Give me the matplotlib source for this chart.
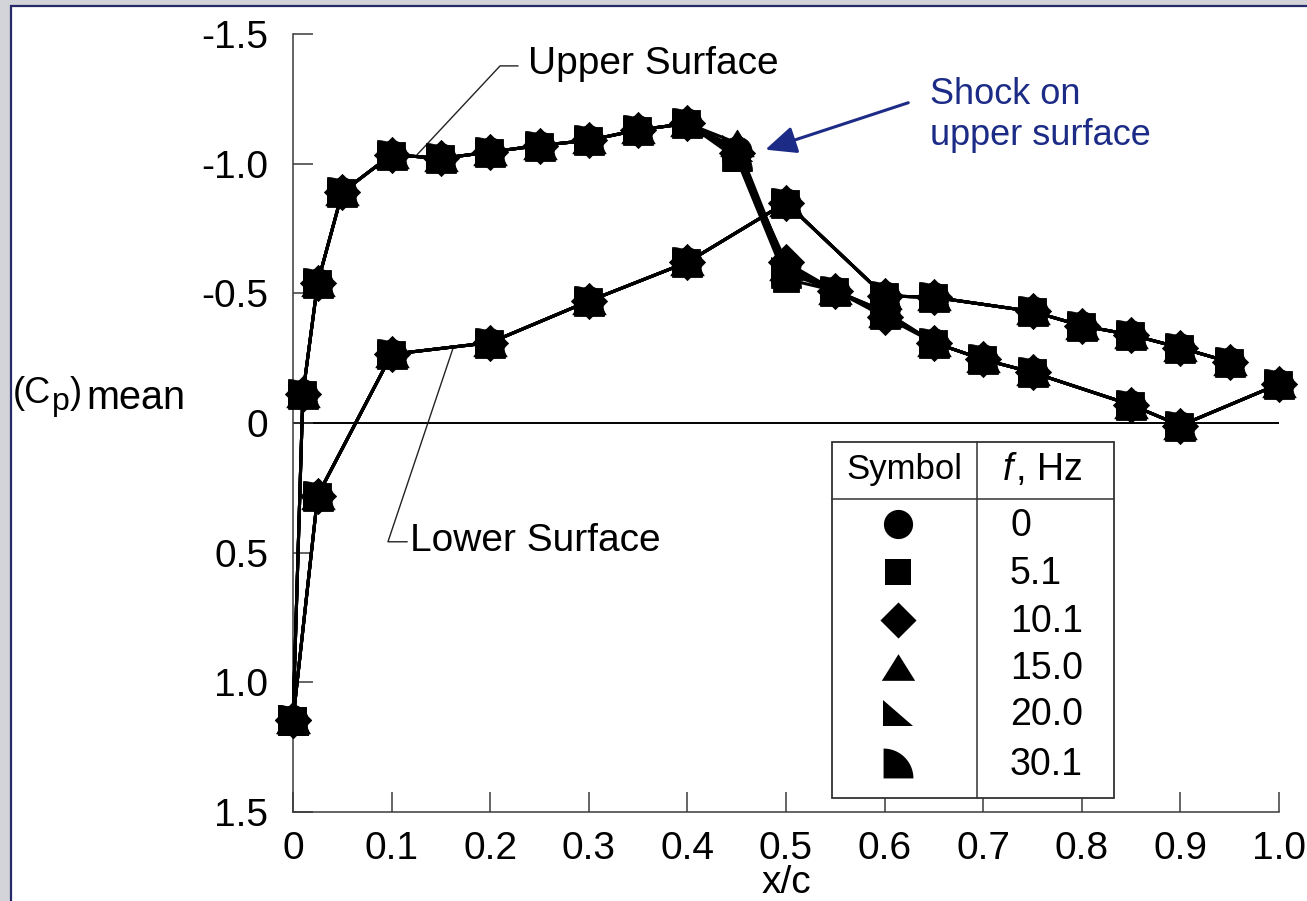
import matplotlib
matplotlib.use('Agg')
import matplotlib.pyplot as plt
from matplotlib.path import Path
from matplotlib.patches import Rectangle
import numpy as np

plt.rcParams['font.family'] = ['Liberation Sans', 'DejaVu Sans']

# ---------------- data ----------------
freqs = ['0', '5.1', '10.1', '15.0', '20.0', '30.1']

x_upper = [0.0, 0.01, 0.025, 0.05, 0.10, 0.15, 0.20, 0.25, 0.30, 0.35, 0.40,
           0.45, 0.50, 0.55, 0.60, 0.65, 0.70, 0.75, 0.85, 0.90, 1.00]
cp_upper_f0 = [1.145, -0.11, -0.54, -0.89, -1.035, -1.02, -1.045, -1.07, -1.09, -1.13, -1.155,
               -1.05, -0.61, -0.51, -0.42, -0.31, -0.245, -0.195, -0.07, 0.01, -0.15]
cp_upper_f5 = [1.145, -0.11, -0.54, -0.89, -1.035, -1.02, -1.045, -1.07, -1.09, -1.13, -1.155,
               -1.02, -0.555, -0.51, -0.43, -0.31, -0.245, -0.195, -0.07, 0.01, -0.15]
cp_upper_f10 = [1.145, -0.11, -0.54, -0.89, -1.035, -1.02, -1.045, -1.07, -1.09, -1.13, -1.155,
                -1.04, -0.62, -0.51, -0.41, -0.31, -0.245, -0.195, -0.07, 0.01, -0.15]
cp_upper_f15 = [1.145, -0.11, -0.54, -0.89, -1.035, -1.02, -1.045, -1.07, -1.09, -1.13, -1.155,
                -1.08, -0.60, -0.51, -0.42, -0.31, -0.245, -0.195, -0.07, 0.01, -0.15]
cp_upper_f20 = [1.145, -0.11, -0.54, -0.89, -1.035, -1.02, -1.045, -1.07, -1.09, -1.13, -1.155,
                -1.06, -0.59, -0.51, -0.43, -0.31, -0.245, -0.195, -0.07, 0.01, -0.15]
cp_upper_f30 = [1.145, -0.11, -0.54, -0.89, -1.035, -1.02, -1.045, -1.07, -1.09, -1.13, -1.155,
                -1.03, -0.58, -0.51, -0.42, -0.31, -0.245, -0.195, -0.07, 0.01, -0.15]

x_lower = [0.0, 0.025, 0.10, 0.20, 0.30, 0.40, 0.50, 0.60, 0.65, 0.75, 0.80, 0.85, 0.90, 0.95]
cp_lower_f0 = [1.145, 0.28, -0.265, -0.31, -0.47, -0.62, -0.85, -0.49, -0.485, -0.43, -0.375, -0.34, -0.29, -0.235]
cp_lower_f5 = [1.145, 0.28, -0.265, -0.31, -0.47, -0.62, -0.85, -0.49, -0.485, -0.43, -0.375, -0.34, -0.29, -0.235]
cp_lower_f10 = [1.145, 0.28, -0.265, -0.31, -0.47, -0.62, -0.85, -0.49, -0.485, -0.43, -0.375, -0.34, -0.29, -0.235]
cp_lower_f15 = [1.145, 0.28, -0.265, -0.31, -0.47, -0.62, -0.85, -0.49, -0.485, -0.43, -0.375, -0.34, -0.29, -0.235]
cp_lower_f20 = [1.145, 0.28, -0.265, -0.31, -0.47, -0.62, -0.85, -0.49, -0.485, -0.43, -0.375, -0.34, -0.29, -0.235]
cp_lower_f30 = [1.145, 0.28, -0.265, -0.31, -0.47, -0.62, -0.85, -0.49, -0.485, -0.43, -0.375, -0.34, -0.29, -0.235]

upper_series = [cp_upper_f0, cp_upper_f5, cp_upper_f10, cp_upper_f15, cp_upper_f20, cp_upper_f30]
lower_series = [cp_lower_f0, cp_lower_f5, cp_lower_f10, cp_lower_f15, cp_lower_f20, cp_lower_f30]

xticks = [0, 0.1, 0.2, 0.3, 0.4, 0.5, 0.6, 0.7, 0.8, 0.9, 1.0]
xticklabels = ['0', '0.1', '0.2', '0.3', '0.4', '0.5', '0.6', '0.7', '0.8', '0.9', '1.0']
yticks = [-1.5, -1.0, -0.5, 0, 0.5, 1.0, 1.5]
yticklabels = ['-1.5', '-1.0', '-0.5', '0', '0.5', '1.0', '1.5']

# ---------------- marker shapes ----------------
def poly(verts):
    v = list(verts) + [verts[0]]
    codes = [Path.MOVETO] + [Path.LINETO] * (len(verts) - 1) + [Path.CLOSEPOLY]
    return Path(v, codes)

diamond = poly([(0, 1), (1, 0), (0, -1), (-1, 0)])
triangle = poly([(0, 0.8), (-1, -0.8), (1, -0.8)])
right_tri = poly([(-1, 0.87), (-1, -0.87), (1, -0.87)])
t = np.linspace(np.pi / 2, 0, 30)
quarter = poly([(-1, -1)] + [(-1 + 2 * np.cos(a), -1 + 2 * np.sin(a)) for a in t])

markers = ['o', 's', diamond, triangle, right_tri, quarter]
msizes = [21, 18.5, 26, 24, 21.5, 21.5]

# ---------------- figure ----------------
W, H = 1307, 901
fig = plt.figure(figsize=(W / 100, H / 100), dpi=100)
fig.patch.set_facecolor('#d2d4d9')

bg = fig.add_axes([0, 0, 1, 1], zorder=0)
bg.set_xlim(0, W); bg.set_ylim(H, 0); bg.axis('off')
bg.add_patch(Rectangle((11, 6), W, H, fc='white', ec='#262a6b', lw=1.6))

ax = fig.add_axes([293 / W, 1 - 812 / H, 986 / W, 778 / H], zorder=1)
ax.set_facecolor('none')
ax.set_xlim(0, 1.0)
ax.set_ylim(1.5, -1.5)
for s in ['top', 'right']:
    ax.spines[s].set_visible(False)
for s in ['left', 'bottom']:
    ax.spines[s].set_color('#3a3a3a')
    ax.spines[s].set_linewidth(1.1)
ax.set_xticks(xticks)
ax.set_xticklabels(xticklabels)
ax.set_yticks(yticks)
ax.set_yticklabels(yticklabels)
ax.tick_params(direction='in', length=14.5, width=1.1, color='#3a3a3a', labelsize=28)
ax.tick_params(axis='y', pad=18)
ax.tick_params(axis='x', pad=14)
ax.set_xlabel('x/c', fontsize=28, labelpad=-2)

ax.axhline(0, color='black', lw=1.4, zorder=1)

for cp, mk, ms in zip(upper_series, markers, msizes):
    ax.plot(x_upper, cp, color='black', lw=2.2, marker=mk, ms=ms, mec='black', mew=0.6,
            clip_on=False, zorder=3)
for cp, mk, ms in zip(lower_series, markers, msizes):
    ax.plot(x_lower, cp, color='black', lw=2.2, marker=mk, ms=ms, mec='black', mew=0.6,
            clip_on=False, zorder=3)

# annotations
ax.plot([0.124, 0.21, 0.228], [-1.027, -1.377, -1.377], color='#222222', lw=1.0, zorder=2, clip_on=False)
ax.text(0.238, -1.385, 'Upper Surface', fontsize=28, va='center', ha='left')
ax.plot([0.162, 0.0963, 0.1156], [-0.285, 0.458, 0.458], color='#222222', lw=1.0, zorder=2, clip_on=False)
ax.text(0.119, 0.455, 'Lower Surface', fontsize=28, va='center', ha='left')

navy = '#1c2c86'
ax.annotate('', xy=(0.479, -1.054), xytext=(0.624, -1.235),
            arrowprops=dict(arrowstyle='-|>,head_length=0.9,head_width=0.4', color=navy, lw=2.2,
                            mutation_scale=21, shrinkA=0, shrinkB=0), annotation_clip=False)
ax.text(0.646, -1.265, 'Shock on', color=navy, fontsize=26, va='center', ha='left')
ax.text(0.646, -1.11, 'upper surface', color=navy, fontsize=26, va='center', ha='left')

# y label (Cp)mean built from pieces
r = fig.canvas.get_renderer()
def piece(x, y, s, size):
    tt = bg.text(x, y, s, fontsize=size, va='baseline', ha='left')
    bb = tt.get_window_extent(r)
    return bb.x1
xp = piece(13, 403, '(C', 26)
xp = piece(xp + 1, 410, 'p', 23)
xp = piece(xp, 403, ')', 26)
piece(xp + 4, 409, 'mean', 28.5)

# legend table
lg = fig.add_axes([0, 0, 1, 1], zorder=3)
lg.set_xlim(0, W); lg.set_ylim(H, 0); lg.axis('off')
lg.add_patch(Rectangle((832, 442), 282, 356, fc='white', ec='#333333', lw=1.3))
lg.plot([977, 977], [442, 798], color='#333333', lw=1.1)
lg.plot([832, 1114], [499, 499], color='#333333', lw=1.1)
lg.text(904, 470, 'Symbol', fontsize=25, ha='center', va='center')
lg.text(1003, 470, 'f', fontsize=27, style='italic', ha='left', va='center')
lg.text(1016, 470, ', Hz', fontsize=27, ha='left', va='center')
row_y = [524, 572, 620, 667, 713, 763]
for yy, mk, ms, lab in zip(row_y, markers, msizes, freqs):
    lg.plot([898], [yy], marker=mk, ms=ms, color='black', mew=0)
    lg.text(1010, yy + 2, lab, fontsize=27, ha='left', va='center')

fig.savefig('out.png', dpi=100, facecolor=fig.get_facecolor())
